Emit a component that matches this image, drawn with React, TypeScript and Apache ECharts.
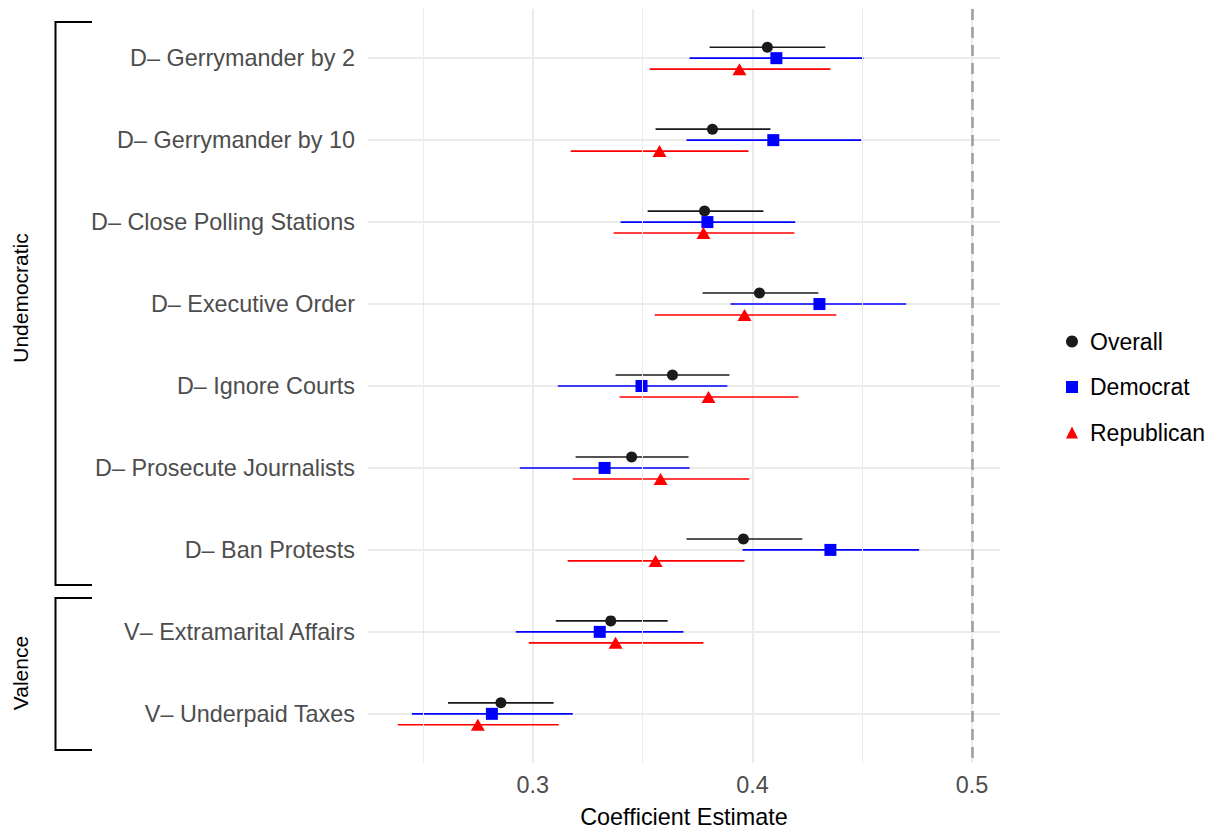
import React, { useEffect, useRef } from "react";
import * as echarts from "echarts";

const categories = [
  "D– Gerrymander by 2",
  "D– Gerrymander by 10",
  "D– Close Polling Stations",
  "D– Executive Order",
  "D– Ignore Courts",
  "D– Prosecute Journalists",
  "D– Ban Protests",
  "V– Extramarital Affairs",
  "V– Underpaid Taxes",
];

const overallEst = [0.4068, 0.3818, 0.3782, 0.4032, 0.3636, 0.345, 0.3959, 0.3355, 0.2855];
const overallLo = [0.3805, 0.3559, 0.3523, 0.3773, 0.3377, 0.3195, 0.37, 0.3105, 0.2614];
const overallHi = [0.4332, 0.4082, 0.405, 0.43, 0.3895, 0.3709, 0.4227, 0.3614, 0.3095];

const demEst = [0.4109, 0.4095, 0.3795, 0.4305, 0.3495, 0.3327, 0.4355, 0.3305, 0.2814];
const demLo = [0.3714, 0.37, 0.34, 0.39, 0.3114, 0.2941, 0.3955, 0.2923, 0.245];
const demHi = [0.4505, 0.4495, 0.4195, 0.47, 0.3886, 0.3714, 0.4759, 0.3686, 0.3182];

const repEst = [0.3941, 0.3577, 0.3777, 0.3964, 0.38, 0.3582, 0.3559, 0.3377, 0.275];
const repLo = [0.3532, 0.3173, 0.3368, 0.3555, 0.3395, 0.3182, 0.3159, 0.2982, 0.2386];
const repHi = [0.4355, 0.3982, 0.4191, 0.4382, 0.4209, 0.3986, 0.3964, 0.3777, 0.3118];

const groups = ["Overall", "Democrat", "Republican"];
const xTickLabels = [0.3, 0.4, 0.5];
const xMinorLines = [0.25, 0.35, 0.45];
const refLine = 0.5;

const FONT = "'Liberation Sans', Arial, Helvetica, sans-serif";

export default function App() {
  const ref = useRef<HTMLDivElement>(null);

  useEffect(() => {
    if (!ref.current) return;
    const chart = echarts.init(ref.current, undefined, { renderer: "svg" });

    const dodge = 0.134;
    const groupDefs = [
      { name: "Overall", est: overallEst, lo: overallLo, hi: overallHi, off: -dodge, color: "#1a1a1a", symbol: "circle", size: 11 },
      { name: "Democrat", est: demEst, lo: demLo, hi: demHi, off: 0, color: "#0000ff", symbol: "rect", size: 12 },
      { name: "Republican", est: repEst, lo: repLo, hi: repHi, off: dodge, color: "#ff0000", symbol: "triangle", size: [14, 12] },
    ];

    const series: any[] = [];
    series.push({
      type: "scatter",
      name: "grid",
      data: [],
      silent: true,
      z: 1,
      markLine: {
        silent: true,
        symbol: "none",
        label: { show: false },
        animation: false,
        data: [
          ...xMinorLines.map((v) => ({ xAxis: v, lineStyle: { color: "#ebebeb", width: 1, type: "solid" } })),
          { xAxis: refLine, lineStyle: { color: "#a0a0a0", width: 2.6, type: [11, 7] } },
        ],
      },
    });

    groupDefs.forEach((g) => {
      series.push({
        type: "custom",
        name: g.name + " CI",
        z: 2,
        silent: true,
        data: categories.map((_, i) => [g.lo[i], g.hi[i], i + g.off]),
        encode: { x: [0, 1], y: 2 },
        renderItem: (params: any, api: any) => {
          const y = api.value(2);
          const p1 = api.coord([api.value(0), y]);
          const p2 = api.coord([api.value(1), y]);
          return {
            type: "line",
            shape: { x1: p1[0], y1: p1[1], x2: p2[0], y2: p2[1] },
            style: { stroke: g.color, lineWidth: 1.6 },
          };
        },
      });
    });

    groupDefs.forEach((g) => {
      series.push({
        type: "scatter",
        name: g.name,
        z: 3,
        symbol: g.symbol,
        symbolSize: g.size,
        itemStyle: { color: g.color, opacity: 1 },
        data: categories.map((_, i) => [g.est[i], i + g.off]),
      });
    });

    chart.setOption({
      animation: false,
      backgroundColor: "#ffffff",
      textStyle: { fontFamily: FONT },
      grid: { left: 368, right: 221, top: 9, bottom: 69, containLabel: false },
      legend: {
        data: groups,
        orient: "vertical",
        left: 1061,
        top: 325,
        itemWidth: 12,
        itemHeight: 12,
        itemGap: 22.5,
        selectedMode: false,
        textStyle: { fontSize: 23, color: "#000000", fontFamily: FONT, padding: [0, 0, 0, 7] },
      },
      xAxis: {
        type: "value",
        min: 0.225,
        max: 0.5127,
        name: "Coefficient Estimate",
        nameLocation: "middle",
        nameGap: 42,
        nameTextStyle: { fontSize: 23.4, color: "#000000", fontFamily: FONT },
        axisLine: { show: false },
        axisTick: { show: false, customValues: xTickLabels },
        axisLabel: {
          customValues: xTickLabels,
          fontSize: 23.4,
          color: "#4d4d4d",
          margin: 10,
          fontFamily: FONT,
          formatter: (v: number) => String(Math.round(v * 10) / 10),
        },
        splitLine: { show: true, lineStyle: { color: "#ebebeb", width: 2 } },
      },
      yAxis: {
        type: "value",
        inverse: true,
        min: -0.6,
        max: 8.6,
        axisLine: { show: false },
        axisTick: { show: false, customValues: categories.map((_, i) => i) },
        axisLabel: {
          customValues: categories.map((_, i) => i),
          fontSize: 23.4,
          color: "#4d4d4d",
          margin: 13,
          fontFamily: FONT,
          formatter: (v: number) => categories[Math.round(v)] ?? "",
        },
        splitLine: { show: true, lineStyle: { color: "#ebebeb", width: 2 } },
      },
      graphic: [
        {
          type: "polyline",
          shape: { points: [[92, 22], [55.5, 22], [55.5, 585], [92, 585]] },
          style: { stroke: "#000000", lineWidth: 2, fill: null },
        },
        {
          type: "polyline",
          shape: { points: [[92, 598], [55.5, 598], [55.5, 750], [92, 750]] },
          style: { stroke: "#000000", lineWidth: 2, fill: null },
        },
        {
          type: "text",
          x: 20,
          y: 298,
          rotation: Math.PI / 2,
          style: {
            text: "Undemocratic",
            fontSize: 21,
            fontFamily: FONT,
            fill: "#000000",
            align: "center",
            verticalAlign: "middle",
          },
        },
        {
          type: "text",
          x: 20,
          y: 673,
          rotation: Math.PI / 2,
          style: {
            text: "Valence",
            fontSize: 21,
            fontFamily: FONT,
            fill: "#000000",
            align: "center",
            verticalAlign: "middle",
          },
        },
      ],
      series,
    });

    return () => chart.dispose();
  }, []);

  return (
    <div
      ref={ref}
      style={{ position: "absolute", left: 0, top: 0, width: 1221, height: 833 }}
    />
  );
}
